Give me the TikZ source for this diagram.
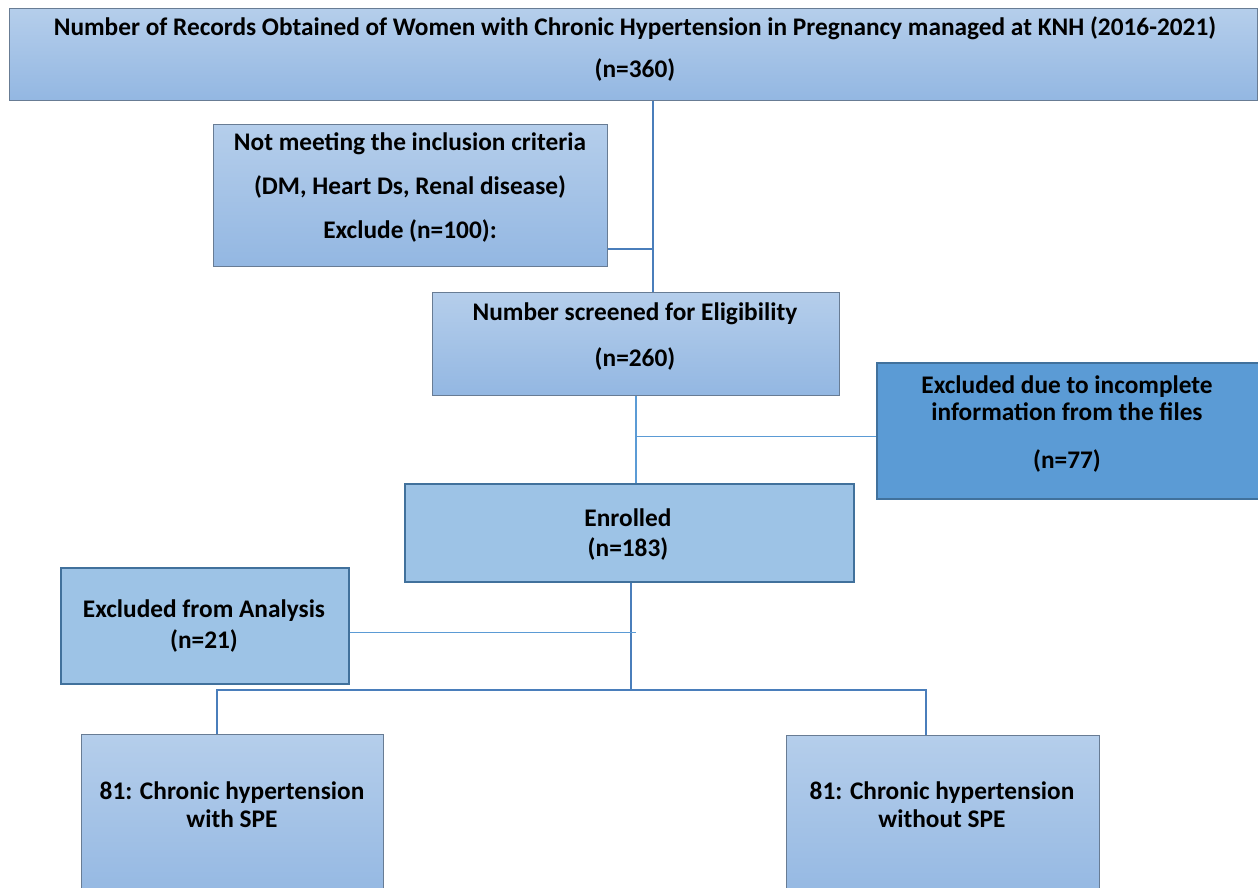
\documentclass[tikz,border=0pt]{standalone}
\usepackage{fontspec}
\setmainfont{Carlito}
\usepackage{tikz}

\definecolor{boxtop}{HTML}{B5CEEB}
\definecolor{boxbot}{HTML}{93B7E2}
\definecolor{boxedge}{HTML}{687C94}
\definecolor{flatfill}{HTML}{9DC3E6}
\definecolor{darkfill}{HTML}{5B9BD5}
\definecolor{darkedge}{HTML}{41719C}
\definecolor{trunkblue}{HTML}{4A7EBB}
\definecolor{thinblue}{HTML}{5B9BD5}

\begin{document}
\begin{tikzpicture}[x=0.75pt, y=-0.75pt,
					box/.style={rectangle, draw=boxedge, line width=0.75pt, top color=boxtop, bottom color=boxbot, anchor=north west, inner sep=0pt},
					flatbox/.style={rectangle, draw=darkedge, line width=1.6pt, fill=flatfill, anchor=north west, inner sep=0pt},
					darkbox/.style={rectangle, draw=darkedge, line width=1.2pt, fill=darkfill, anchor=north west, inner sep=0pt},
					txt/.style={align=center, font=\fontsize{19}{23}\selectfont\bfseries, inner sep=0pt},
					trunk/.style={draw=trunkblue, line width=2.2pt},
					twig/.style={draw=thinblue, line width=0.8pt}]
\clip (0,0) rectangle (1258,888);
% boxes
\node[box, minimum width=1248*0.75pt, minimum height=92*0.75pt] (records) at (9,8) {};
\node[box, minimum width=394*0.75pt, minimum height=142*0.75pt] (exclude) at (213,124) {};
\node[box, minimum width=407*0.75pt, minimum height=103*0.75pt] (screened) at (432,292) {};
\node[darkbox, minimum width=390*0.75pt, minimum height=136*0.75pt] (incomplete) at (876,362) {};
\node[flatbox, minimum width=449*0.75pt, minimum height=98*0.75pt] (enrolled) at (404,483) {};
\node[flatbox, minimum width=288*0.75pt, minimum height=116*0.75pt] (analysis) at (60,567) {};
\node[box, minimum width=302*0.75pt, minimum height=170*0.75pt] (withspe) at (81,734) {};
\node[box, minimum width=313*0.75pt, minimum height=170*0.75pt] (withoutspe) at (786,735) {};
% texts
\node[txt] (records-t) at (635,49) {Number of Records Obtained of Women with Chronic Hypertension in Pregnancy managed at KNH (2016-2021)\\[9pt] (n=360)};
\node[txt] (exclude-t) at (410,188) {Not meeting the inclusion criteria\\[10pt] (DM, Heart Ds, Renal disease)\\[10pt] Exclude (n=100):};
\node[txt] (screened-t) at (635,337) {Number screened for Eligibility\\[11.5pt] (n=260)};
\node[txt] (incomplete-t) at (1067,424) {Excluded due to incomplete\\[-2.75pt] information from the files\\[13pt] (n=77)};
\node[txt] (enrolled-t) at (628,535) {Enrolled\\[-0.5pt] (n=183)};
\node[txt] (analysis-t) at (204,626) {Excluded from Analysis\\[0.25pt] (n=21)};
\node[txt] (withspe-t) at (232,805) {81: Chronic hypertension\\[-2pt] with SPE};
\node[txt] (withoutspe-t) at (942,805) {81: Chronic hypertension\\[-2pt] without SPE};
% connectors
\coordinate (spine) at (653,0);
\coordinate (stem) at (636,0);
\coordinate (split) at (631,690);
\coordinate (lft) at (217,690);
\coordinate (rgt) at (926,690);
\draw[trunk] (records.south -| spine) -- (screened.north -| spine);
\draw[trunk] ([yshift=13.5pt]exclude.south east) -- ([yshift=13.5pt]exclude.south east -| spine);
\draw[twig] (screened.south -| stem) -- (enrolled.north -| stem);
\draw[twig] ([yshift=-4.5pt]incomplete.west) -- ([yshift=-4.5pt]incomplete.west -| stem);
\draw[trunk] (enrolled.south -| split) -- (split);
\draw[twig] ([yshift=-4.5pt]analysis.east) -- ([yshift=-4.5pt]analysis.east -| stem);
\draw[trunk] (withspe.north -| lft) -- (lft) -- (rgt) -- (withoutspe.north -| rgt);
\end{tikzpicture}
\end{document}
